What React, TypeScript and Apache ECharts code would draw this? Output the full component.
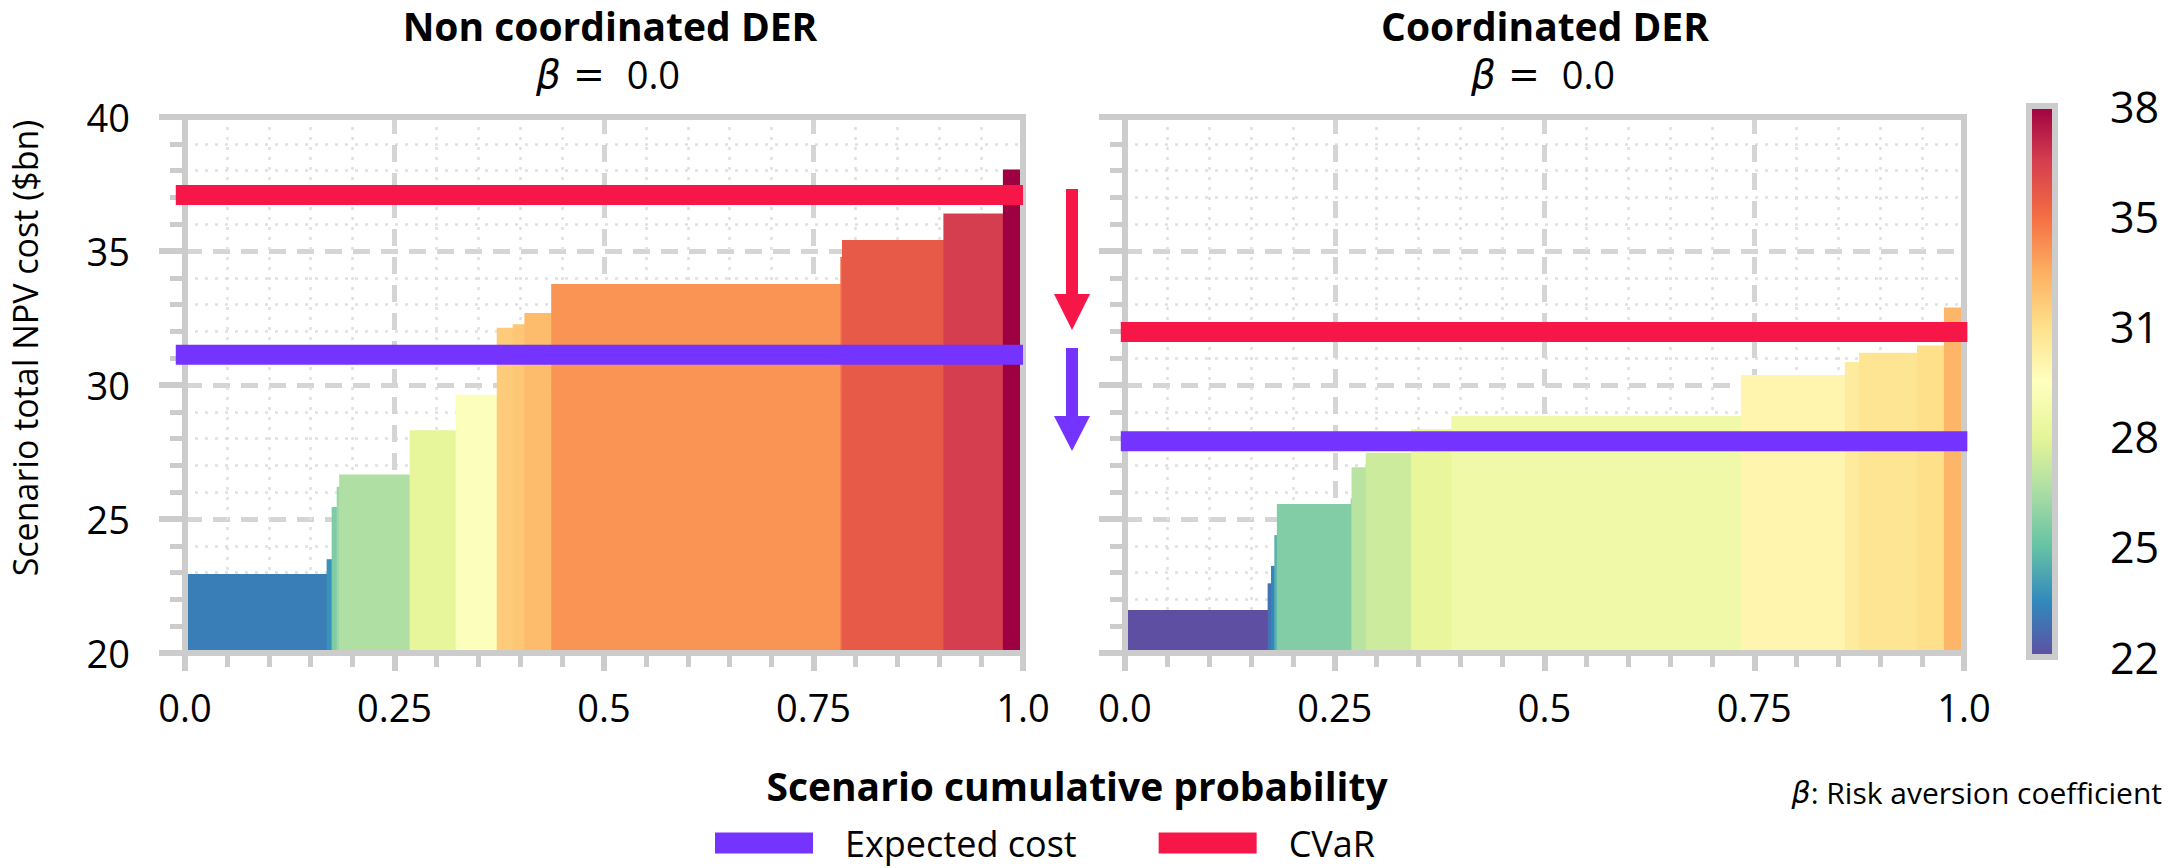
import React, { useEffect, useRef } from 'react';
import * as echarts from 'echarts';

// ---------- data ----------
const xTickLabels = ['0.0', '0.25', '0.5', '0.75', '1.0'];
const colorbarLabels = ['22', '25', '28', '31', '35', '38'];

// Non coordinated DER: cumulative-probability edges and scenario costs ($bn)
const nonCoordEdges = [0, 0.169, 0.175, 0.181, 0.184, 0.268, 0.323, 0.372, 0.391, 0.405, 0.437, 0.782, 0.784, 0.905, 0.976, 1.0];
const nonCoordCosts = [22.95, 23.5, 25.45, 26.2, 26.66, 28.31, 29.64, 32.14, 32.27, 32.69, 33.77, 34.78, 35.41, 36.4, 38.04];

// Coordinated DER
const coordEdges = [0, 0.170, 0.174, 0.178, 0.181, 0.269, 0.270, 0.287, 0.341, 0.389, 0.734, 0.858, 0.875, 0.944, 0.976, 1.0];
const coordCosts = [21.6, 22.6, 23.25, 24.4, 25.56, 25.77, 26.93, 27.47, 28.35, 28.84, 30.37, 30.86, 31.2, 31.47, 32.89];

const nonCoordExpected = 31.13;
const nonCoordCVaR = 37.09;
const coordExpected = 27.9;
const coordCVaR = 31.98;

const nonCoordLineSpan = [-0.011, 1.0];
const coordLineSpan = [-0.005, 1.004];

const panelTitles = ['Non coordinated DER', 'Coordinated DER'];
const betaValue = '0.0';
const legendNames = ['Expected cost', 'CVaR'];

// colour scale spans the range of all scenario costs
const colorMin = Math.min(...nonCoordCosts, ...coordCosts);
const colorMax = Math.max(...nonCoordCosts, ...coordCosts);

// ---------- style ----------
const FONT = "'Open Sans', 'Noto Sans', sans-serif";
const PURPLE = '#7433ff';
const RED = '#f71648';
const SPINE = '#cccccc';
const spectralStops = ['#5e4fa2', '#3288bd', '#66c2a5', '#abdda4', '#e6f598', '#ffffbf', '#fee08b', '#fdae61', '#f46d43', '#d53e4f', '#9e0142'];

function hexToRgb(h: string) {
  return [parseInt(h.slice(1, 3), 16), parseInt(h.slice(3, 5), 16), parseInt(h.slice(5, 7), 16)];
}
function costColor(v: number) {
  let t = (v - colorMin) / (colorMax - colorMin);
  t = Math.max(0, Math.min(1, t));
  const pos = t * (spectralStops.length - 1);
  const i = Math.min(Math.floor(pos), spectralStops.length - 2);
  const f = pos - i;
  const a = hexToRgb(spectralStops[i]);
  const b = hexToRgb(spectralStops[i + 1]);
  const c = a.map((x, k) => Math.round(x + (b[k] - x) * f));
  return `rgb(${c[0]},${c[1]},${c[2]})`;
}

function stepData(edges: number[], costs: number[]) {
  return costs.map((c, i) => [edges[i], edges[i + 1], c]);
}

const stepItem = (params: any, api: any) => {
  const x0 = api.value(0);
  const x1 = api.value(1);
  const v = api.value(2);
  const tl = api.coord([x0, v]);
  const br = api.coord([x1, 20]);
  return {
    type: 'rect',
    shape: { x: tl[0], y: tl[1], width: br[0] - tl[0] + 0.6, height: br[1] - tl[1] },
    style: { fill: costColor(v) },
  };
};

const majorSplit = { show: true, lineStyle: { color: '#d5d5d5', width: 5, type: [17, 11] } };
const minorSplit = { show: true, lineStyle: { color: '#e0e0e0', width: 2.5, type: [3, 7] } };

function xAxisFor(gridIndex: number) {
  return {
    type: 'value',
    gridIndex,
    min: 0,
    max: 1,
    interval: 0.25,
    axisLine: { show: false },
    axisTick: { show: true, length: 18, lineStyle: { color: SPINE, width: 6 } },
    minorTick: { show: true, splitNumber: 5, length: 14, lineStyle: { color: SPINE, width: 5 } },
    axisLabel: {
      fontSize: 38,
      color: '#000',
      margin: 35,
      fontFamily: FONT,
      formatter: (v: number) => xTickLabels[Math.round(v / 0.25)],
    },
    splitLine: majorSplit,
    minorSplitLine: minorSplit,
  };
}

function yAxisFor(gridIndex: number, showLabels: boolean) {
  return {
    type: 'value',
    gridIndex,
    min: 20,
    max: 40,
    interval: 5,
    axisLine: { show: false },
    axisTick: { show: true, length: 26, lineStyle: { color: SPINE, width: 6 } },
    minorTick: { show: true, splitNumber: 5, length: 15, lineStyle: { color: SPINE, width: 5 } },
    axisLabel: { show: showLabels, fontSize: 38, color: '#000', margin: 55, fontFamily: FONT },
    splitLine: majorSplit,
    minorSplitLine: minorSplit,
  };
}

function hLine(name: string, axis: number, span: number[], value: number, color: string) {
  return {
    type: 'line',
    name,
    xAxisIndex: axis,
    yAxisIndex: axis,
    data: [[span[0], value], [span[1], value]],
    symbol: 'none',
    clip: false,
    silent: true,
    z: 12,
    lineStyle: { color, width: 20, cap: 'butt' },
    itemStyle: { color },
  };
}

function betaText(x: number) {
  return {
    type: 'text',
    x,
    y: 74,
    z: 20,
    style: {
      text: '{b|β}{e| = }{n| ' + betaValue + '}',
      textAlign: 'center',
      textVerticalAlign: 'middle',
      fill: '#000',
      rich: {
        b: { fontFamily: "'DejaVu Sans'", fontStyle: 'italic', fontSize: 39, fill: '#000' },
        e: { fontFamily: "'DejaVu Sans'", fontSize: 38, fill: '#000' },
        n: { fontFamily: FONT, fontSize: 38, fill: '#000' },
      },
    },
  };
}

const colorbarStops = spectralStops.map((c, i) => ({ offset: 1 - i / (spectralStops.length - 1), color: c })).reverse();

const option: any = {
  animation: false,
  backgroundColor: '#ffffff',
  textStyle: { fontFamily: FONT },
  grid: [
    { left: 185, top: 117, width: 838, height: 536, show: true, borderColor: SPINE, borderWidth: 6, backgroundColor: 'rgba(0,0,0,0)', z: 10 },
    { left: 1125, top: 117, width: 839, height: 536, show: true, borderColor: SPINE, borderWidth: 6, backgroundColor: 'rgba(0,0,0,0)', z: 10 },
    { left: 2029, top: 106, width: 26, height: 551, show: true, borderColor: SPINE, borderWidth: 6, backgroundColor: 'rgba(0,0,0,0)', z: 10 },
  ],
  xAxis: [
    xAxisFor(0),
    xAxisFor(1),
    { type: 'value', gridIndex: 2, min: 0, max: 1, show: false },
  ],
  yAxis: [
    yAxisFor(0, true),
    yAxisFor(1, false),
    {
      type: 'value',
      gridIndex: 2,
      min: 0,
      max: 5,
      interval: 1,
      position: 'right',
      axisLine: { show: false },
      axisTick: { show: true, length: 22, lineStyle: { color: SPINE, width: 6 } },
      axisLabel: {
        fontSize: 43,
        color: '#000',
        margin: 55,
        fontFamily: FONT,
        formatter: (v: number) => colorbarLabels[Math.round(v)],
      },
      splitLine: { show: false },
    },
  ],
  legend: {
    data: legendNames,
    left: 715,
    top: 825,
    icon: 'rect',
    itemWidth: 98,
    itemHeight: 21,
    itemGap: 82,
    padding: 0,
    selectedMode: false,
    textStyle: { fontSize: 36, lineHeight: 36, color: '#000', fontFamily: FONT, padding: [0, 0, 0, 27] },
  },
  series: [
    {
      type: 'custom',
      name: 'nonCoord',
      xAxisIndex: 0,
      yAxisIndex: 0,
      data: stepData(nonCoordEdges, nonCoordCosts),
      encode: { x: [0, 1], y: 2 },
      renderItem: stepItem,
      silent: true,
    },
    {
      type: 'custom',
      name: 'coord',
      xAxisIndex: 1,
      yAxisIndex: 1,
      data: stepData(coordEdges, coordCosts),
      encode: { x: [0, 1], y: 2 },
      renderItem: stepItem,
      silent: true,
    },
    {
      type: 'custom',
      name: 'colorbar',
      xAxisIndex: 2,
      yAxisIndex: 2,
      data: [[0, 0, 1, 5]],
      encode: { x: [0, 2], y: [1, 3] },
      silent: true,
      renderItem: (params: any, api: any) => {
        const a = api.coord([0, 5]);
        const b = api.coord([1, 0]);
        return {
          type: 'rect',
          shape: { x: a[0], y: a[1], width: b[0] - a[0], height: b[1] - a[1] },
          style: { fill: { type: 'linear', x: 0, y: 0, x2: 0, y2: 1, colorStops: colorbarStops } },
        };
      },
    },
    hLine(legendNames[0], 0, nonCoordLineSpan, nonCoordExpected, PURPLE),
    hLine(legendNames[1], 0, nonCoordLineSpan, nonCoordCVaR, RED),
    hLine(legendNames[0], 1, coordLineSpan, coordExpected, PURPLE),
    hLine(legendNames[1], 1, coordLineSpan, coordCVaR, RED),
  ],
  graphic: [
    {
      type: 'text', x: 610, y: 25, z: 20,
      style: { text: panelTitles[0], fontSize: 39, fontWeight: 'bold', fontFamily: FONT, fill: '#000', textAlign: 'center', textVerticalAlign: 'middle' },
    },
    {
      type: 'text', x: 1545, y: 25, z: 20,
      style: { text: panelTitles[1], fontSize: 39, fontWeight: 'bold', fontFamily: FONT, fill: '#000', textAlign: 'center', textVerticalAlign: 'middle' },
    },
    betaText(608),
    betaText(1543),
    {
      type: 'text', x: 25, y: 348, rotation: Math.PI / 2, z: 20,
      style: { text: 'Scenario total NPV cost ($bn)', fontSize: 34, fontFamily: FONT, fill: '#000', textAlign: 'center', textVerticalAlign: 'middle' },
    },
    {
      type: 'text', x: 1077, y: 785, z: 20,
      style: { text: 'Scenario cumulative probability', fontSize: 39, fontWeight: 'bold', fontFamily: FONT, fill: '#000', textAlign: 'center', textVerticalAlign: 'middle' },
    },
    {
      type: 'text', x: 2162, y: 792, z: 20,
      style: {
        text: '{b|β}{t|: Risk aversion coefficient}',
        textAlign: 'right',
        textVerticalAlign: 'middle',
        rich: {
          b: { fontFamily: "'DejaVu Sans'", fontStyle: 'italic', fontSize: 30, fill: '#000' },
          t: { fontFamily: FONT, fontSize: 30, fill: '#000' },
        },
      },
    },
    // arrows between panels
    { type: 'rect', z: 20, shape: { x: 1066, y: 189, width: 12, height: 106 }, style: { fill: RED } },
    { type: 'polygon', z: 20, shape: { points: [[1054, 294], [1090, 294], [1072, 330]] }, style: { fill: RED } },
    { type: 'rect', z: 20, shape: { x: 1066, y: 348, width: 12, height: 69 }, style: { fill: PURPLE } },
    { type: 'polygon', z: 20, shape: { points: [[1054, 416], [1090, 416], [1072, 451]] }, style: { fill: PURPLE } },
  ],
};

export default function App() {
  const ref = useRef<HTMLDivElement>(null);
  useEffect(() => {
    if (!ref.current) return;
    const chart = echarts.init(ref.current, null, { renderer: 'svg' });
    chart.setOption(option);
    return () => chart.dispose();
  }, []);
  return (
    <div
      ref={ref}
      style={{ position: 'absolute', left: 0, top: 0, width: 2170, height: 868, background: '#fff' }}
    />
  );
}
